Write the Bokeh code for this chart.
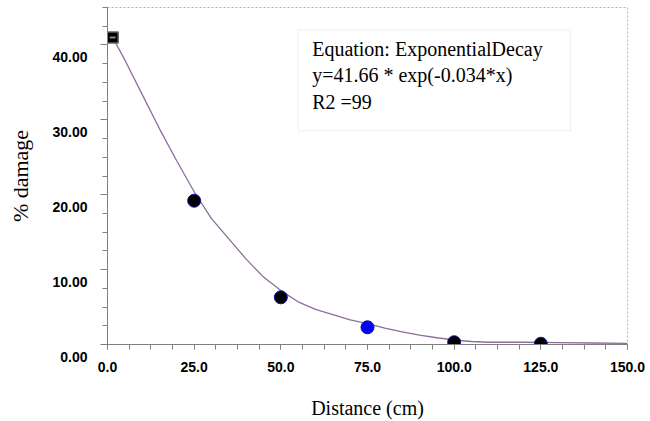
from bokeh.plotting import figure
from bokeh.models import Range1d, FixedTicker, NumeralTickFormatter, Label
from bokeh.embed import file_html
from bokeh.resources import INLINE
import numpy as np

# ---- data ----
first_x = [1.5]
first_y = [41.0]

distance = [25, 50, 75, 100, 125]
damage = [19.2, 6.3, 2.3, 0.3, 0.1]
point_colors = ["black", "black", "#0000ff", "black", "black"]

fit_x = [1.5, 5, 10, 15, 20, 25, 30, 35, 40, 45, 50, 55, 60, 65, 70, 75, 80, 85, 90, 95,
         100, 105, 110, 120, 130, 140, 150]
fit_y = [41.0, 38.0, 33.4, 28.8, 24.5, 20.4, 16.8, 14.1, 11.4, 9.0, 7.2, 5.7, 4.7, 4.0, 3.3, 2.8,
         2.2, 1.7, 1.25, 0.9, 0.6, 0.4, 0.3, 0.3, 0.25, 0.2, 0.15]

x_ticks = [0, 25, 50, 75, 100, 125, 150]
y_ticks = [0, 10, 20, 30, 40]
y_tick_labels = ["0.00", "10.00", "20.00", "30.00", "40.00"]

equation_lines = ["Equation: ExponentialDecay", "y=41.66 * exp(-0.034*x)", "R2 =99"]

x_title = "Distance (cm)"
y_title = "% damage"

# ---- figure ----
p = figure(width=650, height=421,
           x_range=Range1d(0, 150), y_range=Range1d(0, 45),
           output_backend="svg", toolbar_location=None,
           min_border_left=107, min_border_right=23,
           min_border_top=7, min_border_bottom=77)
p.grid.visible = False
p.background_fill_color = "white"
p.border_fill_color = "white"
p.outline_line_color = "#b0b0b0"
p.outline_line_dash = "2 2"
p.outline_line_width = 1

x_minor = [float(v) for v in np.arange(0, 150.01, 6.25)]
y_minor = [float(v) for v in np.arange(0, 45.01, 2.5)]
p.xaxis.ticker = FixedTicker(ticks=x_ticks, minor_ticks=x_minor)
p.yaxis.ticker = FixedTicker(ticks=y_ticks, minor_ticks=y_minor)
p.xaxis.formatter = NumeralTickFormatter(format="0.0")

for ax in (p.xaxis[0], p.yaxis[0]):
    ax.axis_line_color = "#808080"
    ax.major_tick_line_color = "#808080"
    ax.minor_tick_line_color = "#808080"
    ax.major_tick_in = 0
    ax.minor_tick_in = 0
    ax.major_label_text_font = "Liberation Sans"
    ax.major_label_text_font_style = "bold"
    ax.major_label_text_font_size = "14px"
    ax.major_label_text_color = "black"
    ax.axis_label_text_font = "Liberation Serif"
    ax.axis_label_text_font_style = "normal"
    ax.axis_label_text_color = "black"

p.xaxis.major_tick_out = 5
p.xaxis.minor_tick_out = 5
p.xaxis.major_label_standoff = 12
p.xaxis.axis_label = x_title
p.xaxis.axis_label_text_font_size = "20px"
p.xaxis.axis_label_standoff = 22

# y tick labels sit about half a line below their ticks in the reference
p.yaxis.major_tick_out = 7
p.yaxis.minor_tick_out = 5
p.yaxis.major_label_standoff = 13
p.yaxis.major_label_text_line_height = 1.5
p.yaxis.major_label_overrides = {v: "\n" + t for v, t in zip(y_ticks, y_tick_labels)}
p.yaxis.axis_label = y_title
p.yaxis.axis_label_text_font_size = "22px"
p.yaxis.axis_label_standoff = 16

# fitted curve
p.line(fit_x, fit_y, line_color="#8d6e9b", line_width=1.3)

# first point (square marker)
p.scatter(first_x, first_y, marker="square", size=11, fill_color="black",
          line_color="#666666", line_width=1.5)
p.scatter(first_x, first_y, marker="dash", size=6, line_color="#888888", line_width=2)

# circle points
p.scatter(distance, damage, marker="circle", size=13, fill_color=point_colors,
          line_color="#1010a0", line_width=1)

# equation box
eq = Label(x=55, y=42.0, text="\n".join(equation_lines), anchor="top_left",
           text_font="Liberation Serif", text_font_size="20px",
           text_color="black", text_align="left", text_baseline="top",
           background_fill_color="white", border_line_color="#eeeeee",
           padding=dict(left=14, right=28, top=8, bottom=18))
p.add_layout(eq)

open("out.html", "w").write(file_html(p, INLINE))
